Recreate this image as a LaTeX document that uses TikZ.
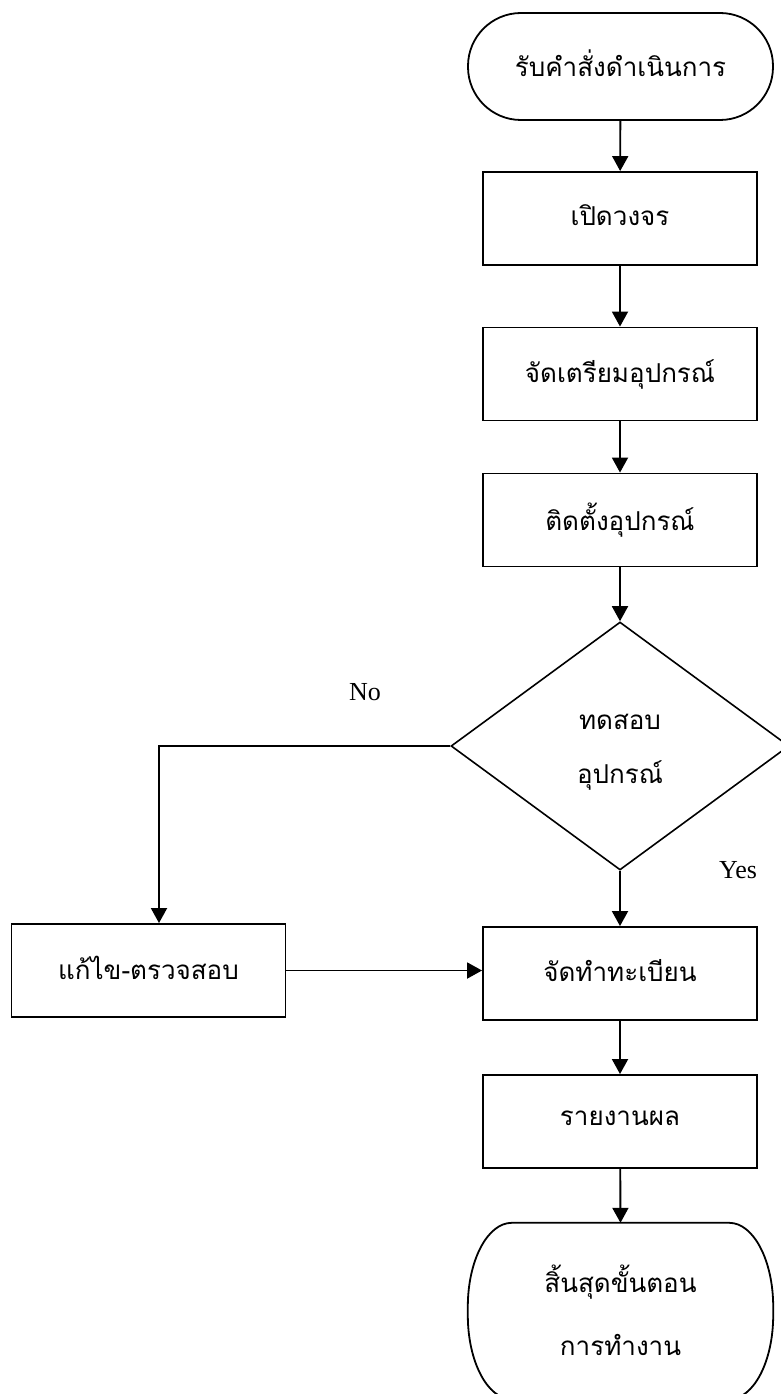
\documentclass[tikz,border=0pt]{standalone}
\usepackage{fontspec}
\setmainfont{Liberation Serif}
\newfontfamily\thaifont[Script=Thai]{Loma}
\usetikzlibrary{arrows.meta,shapes.geometric,calc}

% one line of box text, set a little above the box centre
\newcommand{\boxtext}[1]{\raisebox{6pt}{#1}}
% several centred lines with a given shift
\newcommand{\stacktext}[2]{\raisebox{#1}{\begin{tabular}{@{}c@{}}#2\end{tabular}}}

\begin{document}
\begin{tikzpicture}[x=1pt,y=-1pt,
  thai/.style={font=\thaifont\fontsize{26}{54}\selectfont, align=center, inner sep=0pt},
  stepbox/.style={thai, draw, line width=1.9pt, minimum width=274pt, minimum height=93pt},
  terminal/.style={thai, draw, line width=1.8pt, rounded corners=53pt,
                   minimum width=305pt, minimum height=107pt},
  decision/.style={thai, draw, diamond, line width=1.6pt,
                   minimum width=338pt, minimum height=248pt},
  outline/.style={line width=1.8pt},
  arr/.style={line width=1.9pt, -{Triangle[width=16pt,length=15pt]}},
  lbl/.style={font=\fontsize{26}{30}\selectfont, inner sep=0pt}]

  \useasboundingbox (0,0) rectangle (781,1394);

  % main column
  \node[terminal] (start) at (620.5,66.5) {\boxtext{รับคำสั่งดำเนินการ}};
  \node[stepbox] (open)   at (620,218.5) {\boxtext{เปิดวงจร}};
  \node[stepbox] (prep)   at (620,374)   {\boxtext{จัดเตรียมอุปกรณ์}};
  \node[stepbox] (inst)   at (620,520)   {\boxtext{ติดตั้งอุปกรณ์}};
  \node[decision] (test)  at (620,746)   {\stacktext{-3pt}{ทดสอบ\\อุปกรณ์}};
  \node[stepbox] (fix)    at (148.5,970.5) {\boxtext{แก้ไข-ตรวจสอบ}};
  \node[stepbox] (reg)    at (620,973.5) {\boxtext{จัดทำทะเบียน}};
  \node[stepbox] (report) at (620,1121.5) {\boxtext{รายงานผล}};

  % closing terminal with elliptical ends
  \node[thai, font=\thaifont\fontsize{26}{63}\selectfont,
        minimum width=305pt, minimum height=176pt] (stop) at (620.5,1311)
    {\stacktext{2pt}{สิ้นสุดขั้นตอน\\การทำงาน}};
  \draw[outline]
    ([xshift=44pt]stop.north west) -- ([xshift=-44pt]stop.north east)
    .. controls +(24.3,0) and +(0,-46.4) .. ([yshift=-84pt]stop.north east)
    -- ([yshift=84pt]stop.south east)
    .. controls +(0,46.4) and +(24.3,0) .. ([xshift=-44pt]stop.south east)
    -- ([xshift=44pt]stop.south west)
    .. controls +(-24.3,0) and +(0,46.4) .. ([yshift=84pt]stop.south west)
    -- ([yshift=-84pt]stop.north west)
    .. controls +(0,-46.4) and +(-24.3,0) .. ([xshift=44pt]stop.north west)
    -- cycle;

  % labels
  \node[lbl] (no)  at (365,692) {No};
  \node[lbl] (yes) at (738,870) {Yes};

  % connectors
  \draw[arr] (start) -- (open);
  \draw[arr] (open) -- (prep);
  \draw[arr] (prep) -- (inst);
  \draw[arr] (inst) -- (test);
  \draw[arr] (test.west) -| ([xshift=10.5pt]fix.north);
  \draw[arr] (test.south) -- (reg.north);
  \draw[arr] (fix.east) -- (fix.east -| reg.west);
  \draw[arr] (reg) -- (report);
  \draw[arr] (report) -- (stop.north);
\end{tikzpicture}
\end{document}
